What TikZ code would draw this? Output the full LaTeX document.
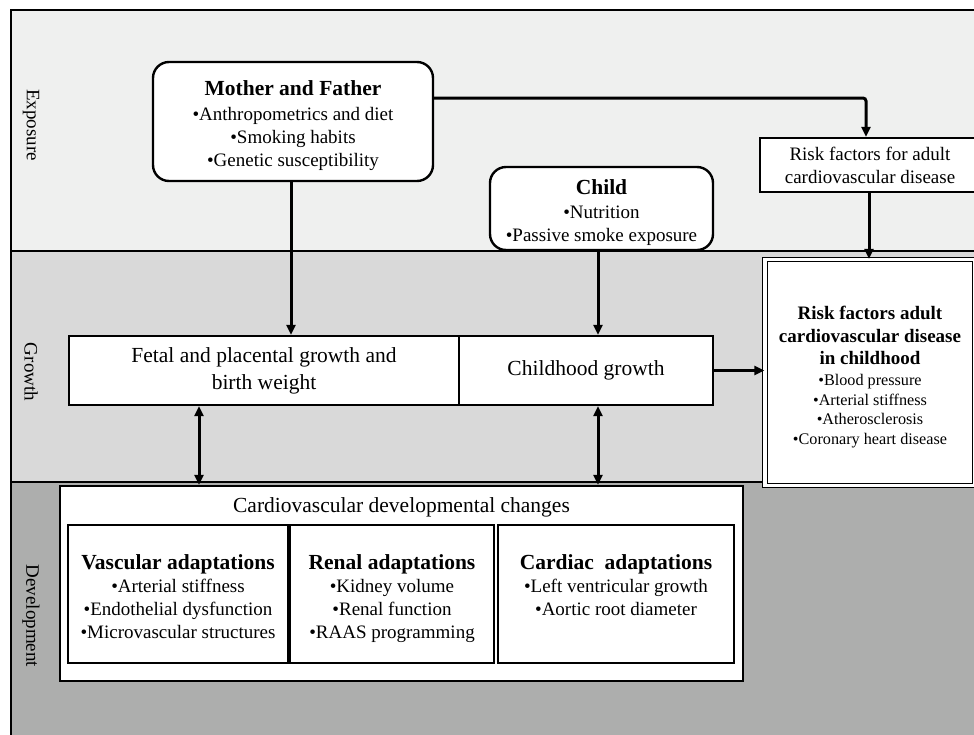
\documentclass[tikz,border=0pt]{standalone}
\usepackage{fontspec}
\setmainfont{Liberation Serif}
\usetikzlibrary{arrows.meta}
\definecolor{cexpo}{RGB}{239,240,239}
\definecolor{cgrow}{RGB}{217,217,217}
\definecolor{cdevel}{RGB}{173,174,173}
\newcommand\myb{\fontsize{19}{23}\selectfont\mdseries}
\newcommand\mys{\fontsize{16.2}{19.7}\selectfont\mdseries}
\newcommand\myt{\fontsize{21.5}{25}\selectfont\bfseries}
\newcommand\myrt{\fontsize{19}{22.5}\selectfont\bfseries}
\newcommand\mym{\fontsize{21.5}{27}\selectfont}
\begin{document}
\begin{tikzpicture}[x=1pt,y=-1pt,
  box/.style={draw, line width=2.4pt, fill=white, inner sep=0pt, align=center},
  rbox/.style={box, rounded corners=16pt},
  txt/.style={inner sep=0pt, align=center},
  arr/.style={line width=3pt, -{Triangle[length=10pt,width=9pt]}},
  darr/.style={line width=3pt, {Triangle[length=10pt,width=9pt]}-{Triangle[length=10pt,width=9pt]}},
  side/.style={rotate=-90, font=\myb, inner sep=0pt}]
\useasboundingbox (0,0) rectangle (974,734);
% bands
\fill[fill=cexpo] (11,10) rectangle (995,251);
\fill[fill=cgrow] (11,251) rectangle (995,482);
\fill[fill=cdevel] (11,482) rectangle (995,750);
\draw[line width=2pt] (995,10) -- (11,10) -- (11,750);
\draw[line width=2pt] (11,251) -- (995,251);
\draw[line width=2pt] (11,482) -- (995,482);
% side labels
\node[side] (lexp) at (31,125) {Exposure};
\node[side] (lgro) at (31,372) {Growth};
\node[side] (ldev) at (31,616) {Development};
% exposure
\node[rbox, minimum width=280pt, minimum height=119pt] (mf) at (293,121.5) {};
\node[txt, font=\myb] (mft) at ([yshift=-4.5pt]mf.center)
  {\myt Mother and Father\\[2pt] •Anthropometrics and diet\\ •Smoking habits\\ •Genetic susceptibility};
\node[rbox, minimum width=223pt, minimum height=83pt] (child) at (601.5,208.5) {};
\node[txt, font=\myb] (childt) at ([yshift=-4.5pt]child.center)
  {\myt Child\\[1pt] •Nutrition\\ •Passive smoke exposure};
\node[box, font=\myb, minimum width=220pt, minimum height=54pt] (ra) at (870,165)
  {Risk factors for adult\\ cardiovascular disease};
% growth
\node[box, font=\mym, minimum width=390pt, minimum height=69pt] (fetal) at (264,370.5)
  {Fetal and placental growth and\\ birth weight};
\node[box, font=\mym, minimum width=254pt, minimum height=69pt] (chg) at (586,370.5)
  {Childhood growth};
\node[draw, fill=white, line width=1.3pt, double=white, double distance=3.2pt,
  inner sep=0pt, align=center, minimum width=210pt, minimum height=226pt, font=\mys] (risk) at (870,372.5) {};
\node[txt, font=\mys] (riskt) at ([yshift=-4.5pt]risk.center)
  {\myrt Risk factors adult\\[3pt] \myrt cardiovascular disease\\[3pt] \myrt in childhood\\[1pt]
   •Blood pressure\\ •Arterial stiffness\\ •Atherosclerosis\\ •Coronary heart disease};
% development
\node[box, minimum width=683pt, minimum height=195pt] (cardio) at (401.5,583.5) {};
\node[txt, font=\mym] (cardiot) at (401.5,507) {Cardiovascular developmental changes};
\node[box, minimum width=220pt, minimum height=138pt] (vasc) at (178,594) {};
\node[box, minimum width=204pt, minimum height=138pt] (renal) at (392,594) {};
\node[box, minimum width=236pt, minimum height=138pt] (card) at (616,594) {};
\node[txt, font=\myb, anchor=north] (vasct) at (178,554)
  {\myt Vascular adaptations\\ •Arterial stiffness\\ •Endothelial dysfunction\\ •Microvascular structures};
\node[txt, font=\myb, anchor=north] (renalt) at (392,554)
  {\myt Renal adaptations\\ •Kidney volume\\ •Renal function\\ •RAAS programming};
\node[txt, font=\myb, anchor=north] (cardt) at (616,554)
  {\myt Cardiac\ \ adaptations\\ •Left ventricular growth\\ •Aortic root diameter};
% connectors
\coordinate (cA) at (291,0);
\coordinate (cB) at (598,0);
\coordinate (cC) at (866,98);
\coordinate (cD) at (199,0);
\coordinate (cE) at (869,0);
\draw[arr] (mf.south -| cA) -- (fetal.north -| cA);
\draw[arr] (child.south -| cB) -- (chg.north -| cB);
\draw[arr, rounded corners=3pt] (mf.east |- cC) -| (ra.north -| cC);
\draw[arr] (ra.south -| cE) -- (risk.north -| cE);
\draw[arr] (chg.east) -- (chg.east -| risk.west);
\draw[darr] (fetal.south -| cD) -- (cardio.north -| cD);
\draw[darr] (chg.south -| cB) -- (cardio.north -| cB);
\end{tikzpicture}
\end{document}
